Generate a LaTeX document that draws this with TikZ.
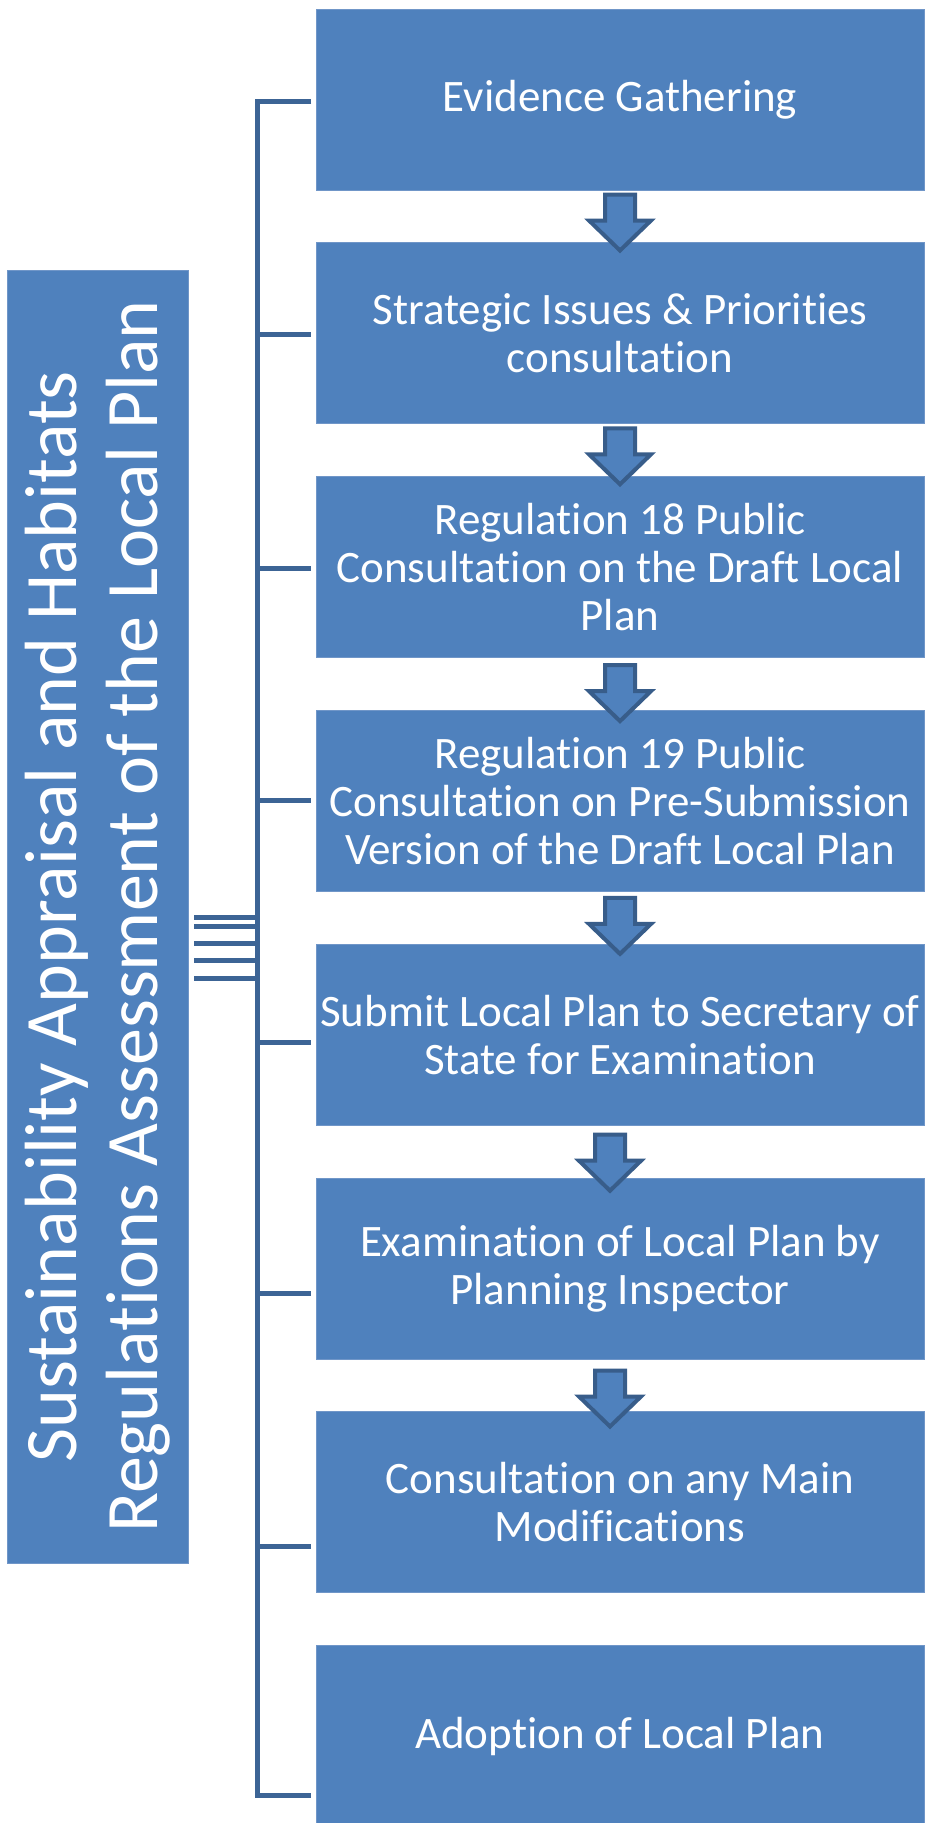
\documentclass[tikz,border=0pt]{standalone}
\usepackage{fontspec}
\setmainfont{Carlito}[Ligatures={NoRequired,NoCommon,NoContextual,NoRare}]
\usetikzlibrary{calc}
\definecolor{boxblue}{HTML}{4F81BD}
\definecolor{boxedge}{HTML}{7096C8}
\definecolor{darkblue}{HTML}{3C6495}
\definecolor{arrowedge}{HTML}{385D8A}
\newcommand\nl{\kern0pt }
\begin{document}
\begin{tikzpicture}[x=1pt,y=1pt,
  stepbox/.style={rectangle, fill=boxblue, draw=boxedge, line width=1pt,
    minimum width=608pt, minimum height=181pt, inner sep=0pt, text=white,
    align=center, font=\fontsize{45}{48}\selectfont},
  sidebox/.style={rectangle, fill=boxblue, draw=boxedge, line width=1pt,
    minimum width=1293pt, minimum height=181pt, inner sep=0pt, text=white,
    align=center, rotate=90, font=\fontsize{74}{81}\selectfont},
  bracket/.style={draw=darkblue, line width=5pt, line join=miter},
  blockarrow/.style={fill=boxblue, draw=arrowedge, line width=4pt, line join=miter}]
\useasboundingbox (0,0) rectangle (927,-1823);
\fill[white] (0,0) rectangle (927,-1823);

% main boxes
\node[stepbox] (b1) at (620,-99.5) {Evidence Gathering};
\node[stepbox] (b2) at (620,-333.3) {Strategic Issues \& Priorities\\consult\nl ation};
\node[stepbox] (b3) at (620,-567.1) {Regulat\nl ion 18 Public\\Consult\nl ation on the Draf\nl t Local\\Plan};
\node[stepbox] (b4) at (620,-800.9) {Regulat\nl ion 19 Public\\Consult\nl ation on Pre-Submission\\Version of the Draf\nl t Local Plan};
\node[stepbox] (b5) at (620,-1034.7) {Submit Local Plan to Secretary of\\State for Examinat\nl ion};
\node[stepbox] (b6) at (620,-1268.5) {Examinat\nl ion of Local Plan by\\Planning Inspector};
\node[stepbox] (b7) at (620,-1502.3) {Consult\nl ation on any Main\\Modif\nl icat\nl ions};
\node[stepbox] (b8) at (620,-1736.1) {Adopt\nl ion of Local Plan};

% side box
\node[sidebox] (sa) at (97.5,-916.5) {Sustainability Appraisal and Habitats\\Regulat\nl ions Assessment of the Local Plan};

% block arrows
\newcommand\mkarrow[3]{%
  \draw[blockarrow] ($(#1.south)+(#2,-#3)$) ++(-15,0) -- ++(30,0) -- ++(0,-26)
    -- ++(16,0) -- ++(-31,-30) -- ++(-31,30) -- ++(16,0) -- cycle;}
\mkarrow{b1}{0}{4}
\mkarrow{b2}{0}{4}
\mkarrow{b3}{0}{7}
\mkarrow{b4}{0}{6}
\mkarrow{b5}{-10}{9}
\mkarrow{b6}{-10}{11}

% bracket
\coordinate (top) at (257,-101);
\coordinate (bot) at (257,-1795);
\draw[bracket] (311,-101) -- (top) -- (bot) -- (311,-1795);
\foreach \yy in {334,568,800,1042,1293,1546}
  \draw[bracket] (257,-\yy) -- (311,-\yy);
\foreach \yy in {917.5,926.5,943.5,960.5,978.5}
  \draw[bracket] (194,-\yy) -- (257,-\yy);
\end{tikzpicture}
\end{document}
